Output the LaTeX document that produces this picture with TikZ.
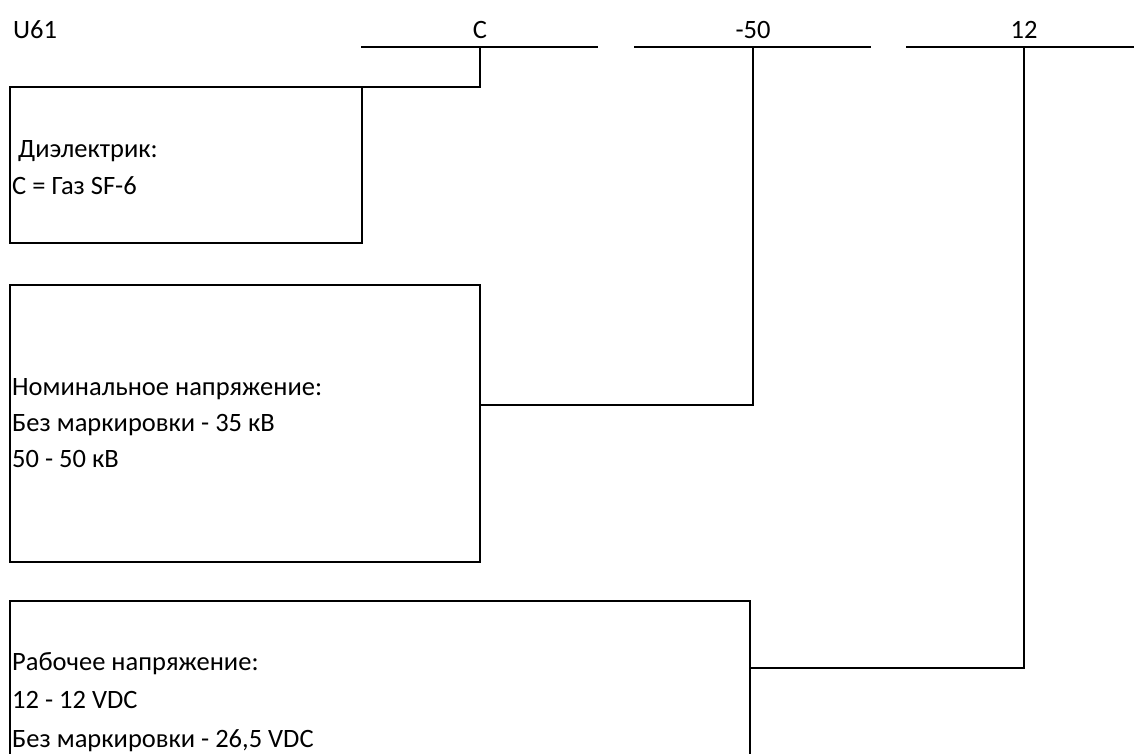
\documentclass[tikz,border=0pt]{standalone}
\usepackage{fontspec}
\setmainfont{Carlito}
\usetikzlibrary{positioning}
\tikzstyle{codebox} = [rectangle, draw=black, line width=2pt, anchor=north west, inner sep=0pt, outer sep=0pt]
\tikzstyle{boxtext} = [anchor=base west, inner sep=0pt, font=\fontsize{26.5}{30}\selectfont]
\tikzstyle{codelabel} = [anchor=base, inner sep=0pt, font=\fontsize{26.5}{30}\selectfont]
\tikzstyle{codeline} = [line width=2pt]
\tikzstyle{connector} = [line width=2pt]

\begin{document}
\begin{tikzpicture}[x=1pt, y=-1pt]
  \useasboundingbox (0,0) rectangle (1134,753);
  \clip (0,0) rectangle (1134,753);

  % Code on top
  \node (model) at (13,38.5) [boxtext] {U61};
  \node (codeC) at (480,38.5) [codelabel] {C};
  \node (code50) at (753,38.5) [codelabel] {-50};
  \node (code12) at (1024,38.5) [codelabel] {12};

  % Lines under the code
  \coordinate (lineC) at (480,47);
  \coordinate (line50) at (753,47);
  \coordinate (line12) at (1024,47);
  \draw[codeline] (361,47) -- (598,47);
  \draw[codeline] (634,47) -- (871,47);
  \draw[codeline] (906,47) -- (1134,47);

  % Boxes
  \node (box1) at (10,87) [codebox, minimum width=352pt, minimum height=156pt] {};
  \node (box2) at (10,285) [codebox, minimum width=470pt, minimum height=277pt] {};
  \node (box3) at (10,601) [codebox, minimum width=740pt, minimum height=200pt] {};

  % Texts in the boxes
  \node (diel) at (12,157) [boxtext] {\ Диэлектрик:};
  \node (gas) at (12,194) [boxtext] {C = Газ SF-6};
  \node (nom) at (12,395.5) [boxtext] {Номинальное напряжение:};
  \node (nom1) at (12,431.5) [boxtext] {Без маркировки - 35 кВ};
  \node (nom2) at (12,467.5) [boxtext] {50 - 50 кВ};
  \node (work) at (12,670) [boxtext] {Рабочее напряжение:};
  \node (work1) at (12,708.5) [boxtext] {12 - 12 VDC};
  \node (work2) at (12,747) [boxtext] {Без маркировки - 26,5 VDC};

  % Connectors
  \draw[connector] (box1.north east) -| (lineC);
  \draw[connector] ([yshift=18.5pt]box2.east) -| (line50);
  \draw[connector] ([yshift=33pt]box3.east) -| (line12);

\end{tikzpicture}
\end{document}
